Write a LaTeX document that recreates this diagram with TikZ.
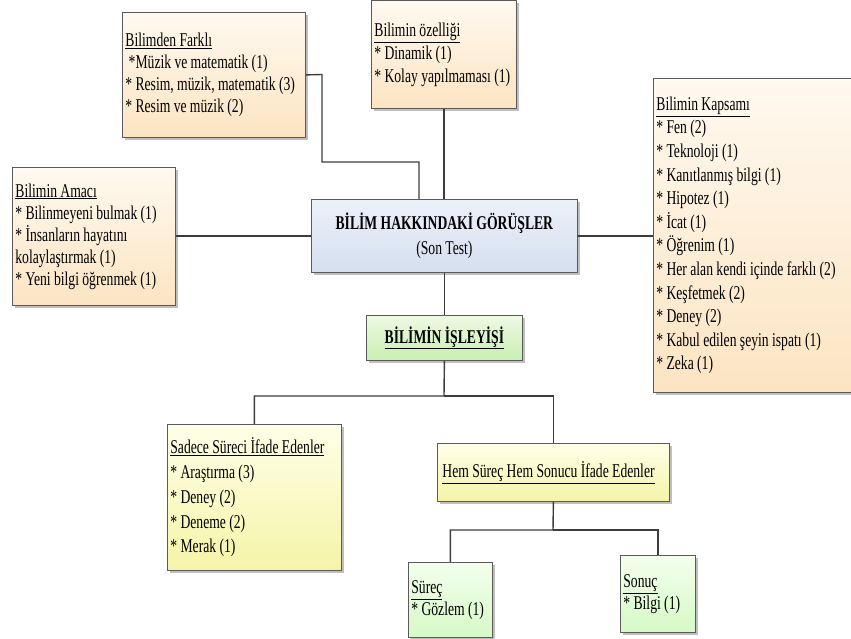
\documentclass[tikz,border=0pt]{standalone}
\usepackage{fontspec}
\setmainfont{Liberation Serif}[FakeStretch=0.7]
\usetikzlibrary{shadows}
\definecolor{boxline}{RGB}{90,90,90}
\definecolor{conn}{RGB}{60,60,60}
\definecolor{peachtop}{RGB}{255,249,240}
\definecolor{peachbot}{RGB}{252,228,194}
\definecolor{bluetop}{RGB}{236,241,249}
\definecolor{bluebot}{RGB}{212,223,239}
\definecolor{greentop}{RGB}{238,250,228}
\definecolor{greenbot}{RGB}{200,238,176}
\definecolor{yellowtop}{RGB}{255,255,232}
\definecolor{yellowbot}{RGB}{244,244,168}
\definecolor{lgreentop}{RGB}{243,255,236}
\definecolor{lgreenbot}{RGB}{214,249,198}
\tikzset{
  box/.style={draw=boxline, line width=0.8pt, rectangle, anchor=north west,
    inner xsep=3pt, inner ysep=0pt, align=left,
    drop shadow={shadow xshift=2.5pt, shadow yshift=-2.5pt, opacity=0.25, fill=black}},
  peach/.style={top color=peachtop, bottom color=peachbot},
  blue/.style={top color=bluetop, bottom color=bluebot},
  green/.style={top color=greentop, bottom color=greenbot},
  yellow/.style={top color=yellowtop, bottom color=yellowbot},
  lgreen/.style={top color=lgreentop, bottom color=lgreenbot},
  link/.style={draw=conn, line width=1.4pt},
}
\newcommand{\fs}[1]{\fontsize{19.5}{#1}\selectfont}
\newcommand{\st}{\relax{*}}
\begin{document}
\begin{tikzpicture}[x=1pt,y=-1pt]
\useasboundingbox (0,0) rectangle (851,639);
% top boxes
\node[box, peach, minimum width=183pt, minimum height=125pt, text width=177pt] (bf) at (122,12)
  {\fs{22pt}\underline{Bilimden Farklı}\\\ \st Müzik ve matematik (1)\\\st\ Resim, müzik, matematik (3)\\\st\ Resim ve müzik (2)\par};
\node[box, peach, minimum width=145pt, minimum height=108pt, text width=139pt] (oz) at (371,0.5)
  {\fs{23pt}\underline{Bilimin özelliği}\\\st\ Dinamik (1)\\\st\ Kolay yapılmaması (1)\par};
\node[box, peach, minimum width=163pt, minimum height=138pt, text width=157pt] (am) at (12,167)
  {\fs{22pt}\underline{Bilimin Amacı}\\\st\ Bilinmeyeni bulmak (1)\\\st\ İnsanların hayatını\\kolaylaştırmak (1)\\\st\ Yeni bilgi öğrenmek (1)\par};
\node[box, peach, minimum width=215pt, minimum height=314pt, text width=209pt] (kp) at (653,78)
  {\fs{23.6pt}\underline{Bilimin Kapsamı}\\\st\ Fen (2)\\\st\ Teknoloji (1)\\\st\ Kanıtlanmış bilgi (1)\\\st\ Hipotez (1)\\\st\ İcat (1)\\\st\ Öğrenim (1)\\\st\ Her alan kendi içinde farklı (2)\\\st\ Keşfetmek (2)\\\st\ Deney (2)\\\st\ Kabul edilen şeyin ispatı (1)\\\st\ Zeka (1)\par};
% central
\node[box, blue, align=center, minimum width=266pt, minimum height=73pt, text width=260pt] (c) at (311,199)
  {\fs{25pt}\textbf{BİLİM HAKKINDAKİ GÖRÜŞLER}\\(Son Test)\par};
\node[box, green, align=center, minimum width=156pt, minimum height=45pt, text width=150pt] (is) at (366,315)
  {\fs{22pt}\textbf{\underline{BİLİMİN İŞLEYİŞİ}}\par};
% bottom
\node[box, yellow, minimum width=174pt, minimum height=146pt, text width=168pt] (sd) at (167,424)
  {\fs{24.7pt}\underline{Sadece Süreci İfade Edenler}\\\st\ Araştırma (3)\\\st\ Deney (2)\\\st\ Deneme (2)\\\st\ Merak (1)\par};
\node[box, yellow, minimum width=232pt, minimum height=58pt, text width=222pt, inner xsep=5pt] (hm) at (437,443)
  {\fs{22pt}\underline{Hem Süreç Hem Sonucu İfade Edenler}\par};
\node[box, lgreen, minimum width=84pt, minimum height=75pt, text width=78pt] (sr) at (408,562)
  {\fs{22pt}\underline{Süreç}\\\st\ Gözlem (1)\par};
\node[box, lgreen, minimum width=75pt, minimum height=77pt, text width=69pt] (sn) at (620,555)
  {\fs{22pt}\underline{Sonuç}\\\st\ Bilgi (1)\par};
% connectors
\coordinate (b1) at (322,74.5);
\coordinate (b2) at (322,162);
\coordinate (b3) at (419,162);
\path[link] (bf.east) -- (b1) -- (b2) -- (b3) -- (b3 |- c.north);
\path[link] (oz.south) -- (oz.south |- c.north);
\path[link] (am.east |- c.west) -- (c.west);
\path[link] (c.east) -- (kp.west |- c.east);
\path[link] (c.south) -- (is.north);
\coordinate (j1) at (444,396);
\path[link] (is.south) -- (j1) -| (sd.north);
\path[link] (j1) -| (hm.north);
\coordinate (j2) at (553,530);
\path[link] (hm.south) -- (j2) -| (sr.north);
\path[link] (j2) -| (sn.north);
\end{tikzpicture}
\end{document}
